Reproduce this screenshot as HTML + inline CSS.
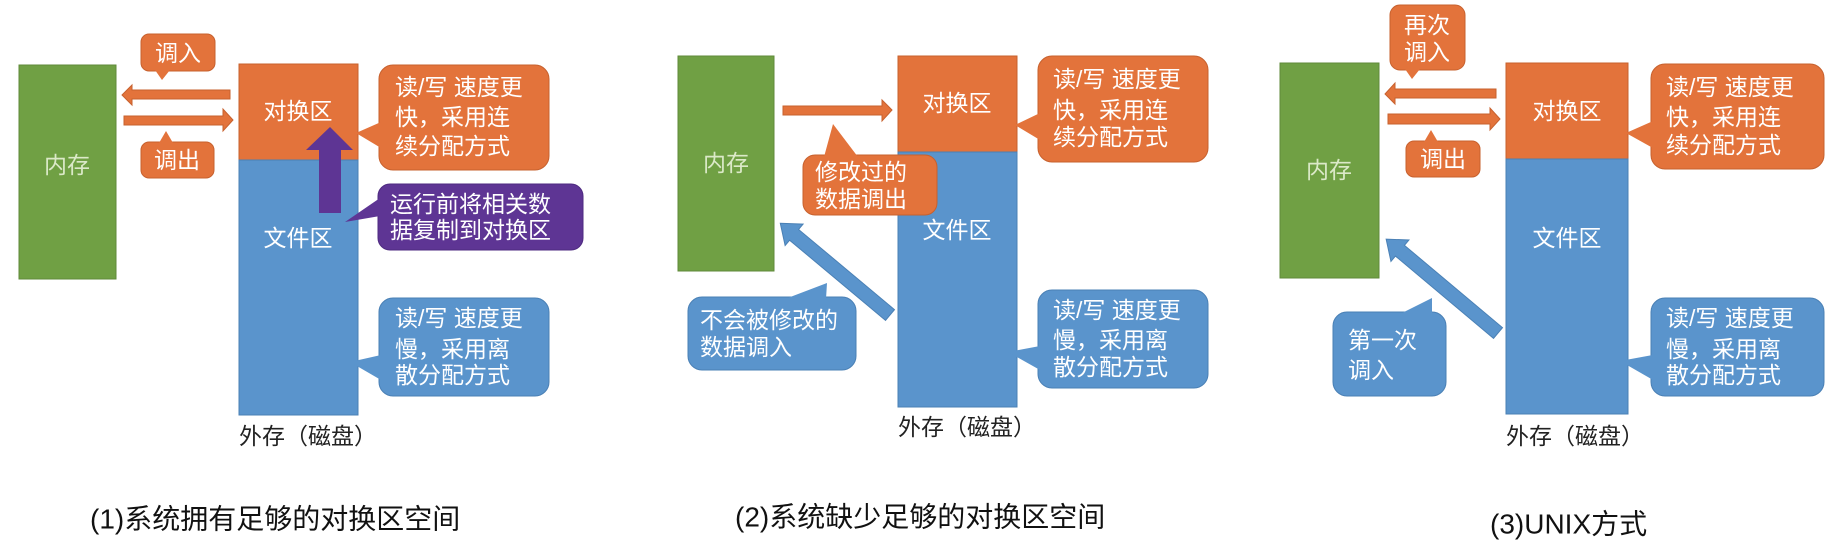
<!DOCTYPE html>
<html><head><meta charset="utf-8"><style>
html,body{margin:0;padding:0;background:#fff;}
svg{display:block;}
text{font-family:"Liberation Sans","Noto Sans CJK SC",sans-serif;}
.w{fill:#fff;font-size:23px;}
.k{fill:#222;font-size:23px;}
.cap{fill:#111;font-size:28px;}
.g{fill:#dbe9c8;font-size:23px;}
</style></head><body>
<svg width="1844" height="551" viewBox="0 0 1844 551" xmlns="http://www.w3.org/2000/svg">
<!-- ============ Panel 1 ============ -->
<rect x="19" y="65" width="97" height="214" fill="#70a044" stroke="#5f8a3a"/>
<text class="g" x="67" y="165" text-anchor="middle" dominant-baseline="central">内存</text>
<rect x="141" y="34" width="74" height="37" rx="8" fill="#e3733b" stroke="#c7612e"/>
<polygon points="155,70 170,70 162,80" fill="#e3733b"/>
<text class="w" x="178" y="53" text-anchor="middle" dominant-baseline="central">调入</text>
<polygon points="230,90 132,90 132,85 122,95 132,105 132,99 230,99" fill="#e3733b" stroke="#c7612e"/>
<polygon points="124,116 223,116 223,109 233,120 223,131 223,125 124,125" fill="#e3733b" stroke="#c7612e"/>
<rect x="141" y="142" width="73" height="36" rx="8" fill="#e3733b" stroke="#c7612e"/>
<polygon points="159,143 173,143 166,131" fill="#e3733b"/>
<text class="w" x="177" y="160" text-anchor="middle" dominant-baseline="central">调出</text>
<rect x="239" y="64" width="119" height="96" fill="#e3733b" stroke="#c7612e"/>
<rect x="239" y="160" width="119" height="255" fill="#5a94cc" stroke="#4a80b5"/>
<text class="w" x="298" y="111" text-anchor="middle" dominant-baseline="central">对换区</text>
<text class="w" x="298" y="238" text-anchor="middle" dominant-baseline="central">文件区</text>
<polygon points="319,213 341,213 341,150 353,150 330,127 306,150 319,150" fill="#5e3594"/>
<rect x="379" y="65" width="170" height="105" rx="14" fill="#e3733b" stroke="#c7612e"/>
<polygon points="381,122 381,148 356,133" fill="#e3733b"/>
<text class="w" x="395" y="87" dominant-baseline="central">读/写 速度更</text>
<text class="w" x="395" y="117" dominant-baseline="central">快，采用连</text>
<text class="w" x="395" y="146" dominant-baseline="central">续分配方式</text>
<rect x="378" y="184" width="205" height="66" rx="12" fill="#5e3594" stroke="#4e2a80"/>
<polygon points="380,198 380,216 345,222" fill="#5e3594"/>
<text class="w" x="390" y="204" dominant-baseline="central">运行前将相关数</text>
<text class="w" x="390" y="230" dominant-baseline="central">据复制到对换区</text>
<rect x="379" y="298" width="170" height="98" rx="14" fill="#5a94cc" stroke="#4a80b5"/>
<polygon points="381,355 381,380 350,362" fill="#5a94cc"/>
<text class="w" x="395" y="318" dominant-baseline="central">读/写 速度更</text>
<text class="w" x="395" y="349" dominant-baseline="central">慢，采用离</text>
<text class="w" x="395" y="375" dominant-baseline="central">散分配方式</text>
<text class="k" x="239" y="436" dominant-baseline="central">外存（磁盘）</text>
<text class="cap" x="90" y="519" dominant-baseline="central">(1)系统拥有足够的对换区空间</text>

<!-- ============ Panel 2 ============ -->
<rect x="678" y="56" width="96" height="215" fill="#70a044" stroke="#5f8a3a"/>
<text class="g" x="726" y="163" text-anchor="middle" dominant-baseline="central">内存</text>
<rect x="898" y="56" width="119" height="96" fill="#e3733b" stroke="#c7612e"/>
<rect x="898" y="152" width="119" height="255" fill="#5a94cc" stroke="#4a80b5"/>
<text class="w" x="957" y="103" text-anchor="middle" dominant-baseline="central">对换区</text>
<text class="w" x="957" y="230" text-anchor="middle" dominant-baseline="central">文件区</text>
<polygon points="783,106 882,106 882,100 892,110 882,121 882,115 783,115" fill="#e3733b" stroke="#c7612e"/>
<rect x="803" y="155" width="134" height="60" rx="12" fill="#e3733b" stroke="#c7612e"/>
<polygon points="824,157 858,157 833,124" fill="#e3733b"/>
<text class="w" x="815" y="172" dominant-baseline="central">修改过的</text>
<text class="w" x="815" y="199" dominant-baseline="central">数据调出</text>
<g transform="translate(890,315) rotate(219.9)">
<polygon points="0,-7 125,-7 125,-14 143,0 125,14 125,7 0,7" fill="#5a94cc" stroke="#4a80b5"/>
</g>
<rect x="688" y="297" width="168" height="73" rx="14" fill="#5a94cc" stroke="#4a80b5"/>
<polygon points="785,299 826,299 827,283" fill="#5a94cc"/>
<text class="w" x="700" y="320" dominant-baseline="central">不会被修改的</text>
<text class="w" x="700" y="347" dominant-baseline="central">数据调入</text>
<rect x="1038" y="56" width="170" height="106" rx="14" fill="#e3733b" stroke="#c7612e"/>
<polygon points="1040,113 1040,140 1015,125" fill="#e3733b"/>
<text class="w" x="1053" y="79" dominant-baseline="central">读/写 速度更</text>
<text class="w" x="1053" y="110" dominant-baseline="central">快，采用连</text>
<text class="w" x="1053" y="137" dominant-baseline="central">续分配方式</text>
<rect x="1038" y="290" width="170" height="98" rx="14" fill="#5a94cc" stroke="#4a80b5"/>
<polygon points="1040,346 1040,370 1008,352" fill="#5a94cc"/>
<text class="w" x="1053" y="310" dominant-baseline="central">读/写 速度更</text>
<text class="w" x="1053" y="340" dominant-baseline="central">慢，采用离</text>
<text class="w" x="1053" y="367" dominant-baseline="central">散分配方式</text>
<text class="k" x="898" y="427" dominant-baseline="central">外存（磁盘）</text>
<text class="cap" x="735" y="517" dominant-baseline="central">(2)系统缺少足够的对换区空间</text>

<!-- ============ Panel 3 ============ -->
<rect x="1280" y="63" width="99" height="215" fill="#70a044" stroke="#5f8a3a"/>
<text class="g" x="1329" y="170" text-anchor="middle" dominant-baseline="central">内存</text>
<rect x="1390" y="5" width="75" height="65" rx="10" fill="#e3733b" stroke="#c7612e"/>
<polygon points="1405,69 1420,69 1412,79" fill="#e3733b"/>
<text class="w" x="1427" y="25" text-anchor="middle" dominant-baseline="central">再次</text>
<text class="w" x="1427" y="52" text-anchor="middle" dominant-baseline="central">调入</text>
<polygon points="1496,89 1395,89 1395,83 1385,94 1395,104 1395,98 1496,98" fill="#e3733b" stroke="#c7612e"/>
<polygon points="1388,114 1490,114 1490,108 1500,119 1490,130 1490,124 1388,124" fill="#e3733b" stroke="#c7612e"/>
<rect x="1406" y="141" width="74" height="36" rx="8" fill="#e3733b" stroke="#c7612e"/>
<polygon points="1424,142 1438,142 1431,130" fill="#e3733b"/>
<text class="w" x="1443" y="159" text-anchor="middle" dominant-baseline="central">调出</text>
<rect x="1506" y="63" width="122" height="96" fill="#e3733b" stroke="#c7612e"/>
<rect x="1506" y="159" width="122" height="255" fill="#5a94cc" stroke="#4a80b5"/>
<text class="w" x="1567" y="111" text-anchor="middle" dominant-baseline="central">对换区</text>
<text class="w" x="1567" y="238" text-anchor="middle" dominant-baseline="central">文件区</text>
<rect x="1651" y="64" width="173" height="105" rx="14" fill="#e3733b" stroke="#c7612e"/>
<polygon points="1653,121 1653,148 1626,133" fill="#e3733b"/>
<text class="w" x="1666" y="87" dominant-baseline="central">读/写 速度更</text>
<text class="w" x="1666" y="117" dominant-baseline="central">快，采用连</text>
<text class="w" x="1666" y="145" dominant-baseline="central">续分配方式</text>
<rect x="1651" y="298" width="173" height="98" rx="14" fill="#5a94cc" stroke="#4a80b5"/>
<polygon points="1653,355 1653,380 1620,361" fill="#5a94cc"/>
<text class="w" x="1666" y="318" dominant-baseline="central">读/写 速度更</text>
<text class="w" x="1666" y="349" dominant-baseline="central">慢，采用离</text>
<text class="w" x="1666" y="375" dominant-baseline="central">散分配方式</text>
<g transform="translate(1498,333) rotate(220)">
<polygon points="0,-7 128,-7 128,-14 146,0 128,14 128,7 0,7" fill="#5a94cc" stroke="#4a80b5"/>
</g>
<rect x="1333" y="312" width="113" height="84" rx="14" fill="#5a94cc" stroke="#4a80b5"/>
<polygon points="1400,314 1432,314 1432,298" fill="#5a94cc"/>
<text class="w" x="1348" y="340" dominant-baseline="central">第一次</text>
<text class="w" x="1348" y="370" dominant-baseline="central">调入</text>
<text class="k" x="1506" y="436" dominant-baseline="central">外存（磁盘）</text>
<text class="cap" x="1490" y="524" dominant-baseline="central">(3)UNIX方式</text>
</svg>
</body></html>
